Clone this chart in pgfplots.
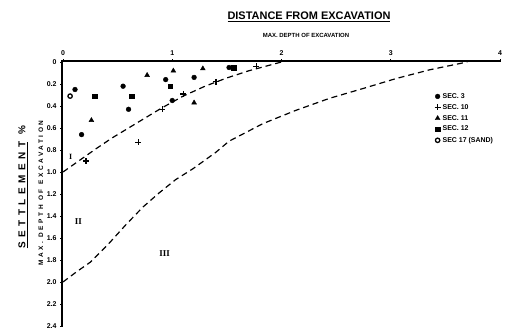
\documentclass[border=0pt]{standalone}
\usepackage{pgfplots}
\pgfplotsset{compat=1.18}
\usepackage{fontspec}
\setmainfont{Liberation Sans}
\newfontfamily\serif{Liberation Serif}
\begin{document}
\begin{tikzpicture}
\path[use as bounding box] (0bp,0bp) rectangle (526bp,335bp);
\begin{axis}[
  at={(63bp,9bp)}, anchor=south west,
  scale only axis, width=437bp, height=264bp,
  xmin=0, xmax=4, ymin=0, ymax=2.4,
  y dir=reverse,
  axis line style={draw=none},
  xtick pos=upper, ytick pos=lower,
  xtick={0,1,2,3,4}, xticklabels={0,1,2,3,4},
  ytick={0,0.2,0.4,0.6,0.8,1.0,1.2,1.4,1.6,1.8,2.0,2.2,2.4},
  yticklabels={0,0.2,0.4,0.6,0.8,1.0,1.2,1.4,1.6,1.8,2.0,2.2,2.4},
  major tick style={line width=0.9pt, draw=black},
  major tick length=3bp, tick align=outside,
  ticklabel style={font=\fontsize{7}{8}\selectfont\bfseries},
  clip=false,
  legend style={draw=none, fill=none, at={(axis description cs:0.85,0.89)}, anchor=north west,
    font=\fontsize{7}{8}\selectfont\bfseries, row sep=0.6bp, inner sep=0pt},
  legend cell align=left,
]
\addplot[only marks, mark=*, mark size=2.4pt, black] coordinates {
 (0.11,0.25) (0.55,0.22) (0.60,0.43) (0.17,0.66) (0.94,0.16) (1.20,0.14) (1.0,0.35) (1.52,0.05)};
\addlegendentry{SEC. 3}
\addplot[only marks, mark=+, mark size=3pt, line width=1.2pt, black] coordinates {
 (0.69,0.73) (0.21,0.90) (0.91,0.43) (1.10,0.29) (1.40,0.18) (1.77,0.04)};
\addlegendentry{SEC. 10}
\addplot[only marks, mark=triangle*, mark size=2.8pt, black] coordinates {
 (0.26,0.53) (0.77,0.12) (1.01,0.08) (1.28,0.06) (1.20,0.37)};
\addlegendentry{SEC. 11}
\addplot[only marks, mark=square*, mark size=2.3pt, black] coordinates {
 (0.29,0.31) (0.63,0.31) (0.98,0.22) (1.56,0.05)};
\addlegendentry{SEC. 12}
\addplot[only marks, mark=o, mark size=2.2pt, line width=1.3pt, black] coordinates {
 (0.065,0.31)};
\addlegendentry{SEC 17 (SAND)}
\addplot[black, line width=1.2pt, dash pattern=on 6bp off 4bp, forget plot] coordinates {
 (0,1.0) (0.1,0.93) (0.2,0.86) (0.3,0.79) (0.45,0.69) (0.6,0.60) (0.75,0.51) (0.9,0.42)
 (1.1,0.31) (1.3,0.22) (1.5,0.145) (1.7,0.08) (1.85,0.04) (2.0,0.0)};
\addplot[black, line width=1.2pt, dash pattern=on 6bp off 4bp, forget plot] coordinates {
 (0,2.0) (0.12,1.91) (0.25,1.82) (0.42,1.65) (0.575,1.48) (0.73,1.32) (0.88,1.19) (1.03,1.07)
 (1.19,0.97) (1.40,0.82) (1.52,0.72) (1.83,0.56) (2.13,0.44) (2.44,0.33) (2.75,0.24)
 (3.05,0.15) (3.36,0.07) (3.70,0.0)};
\node[font=\serif\bfseries\fontsize{8}{8}\selectfont] at (axis cs:0.07,0.86) {I};
\node[font=\serif\bfseries\fontsize{9}{9}\selectfont] at (axis cs:0.14,1.45) {II};
\node[font=\serif\bfseries\fontsize{9}{9}\selectfont] at (axis cs:0.93,1.74) {III};
\end{axis}
\node[font=\fontsize{11}{12}\selectfont\bfseries] at (309bp,318bp) {\underline{DISTANCE FROM EXCAVATION}};
\node[font=\fontsize{6}{7}\selectfont\bfseries] at (306bp,300bp) {MAX.\ DEPTH OF EXCAVATION};
\node[rotate=90, font=\fontsize{10}{11}\selectfont\bfseries\addfontfeatures{LetterSpace=45}] at (23bp,148bp) {\underline{SETTLEMENT} \%};
\node[rotate=90, font=\fontsize{6.5}{7}\selectfont\bfseries\addfontfeatures{LetterSpace=40}] at (41bp,142bp) {MAX.\ DEPTH OF EXCAVATION};
\draw[black, line width=1.5pt, line cap=rect] (62.2bp,9bp) -- (62.2bp,273.8bp) -- (500bp,273.8bp);
\end{tikzpicture}
\end{document}
